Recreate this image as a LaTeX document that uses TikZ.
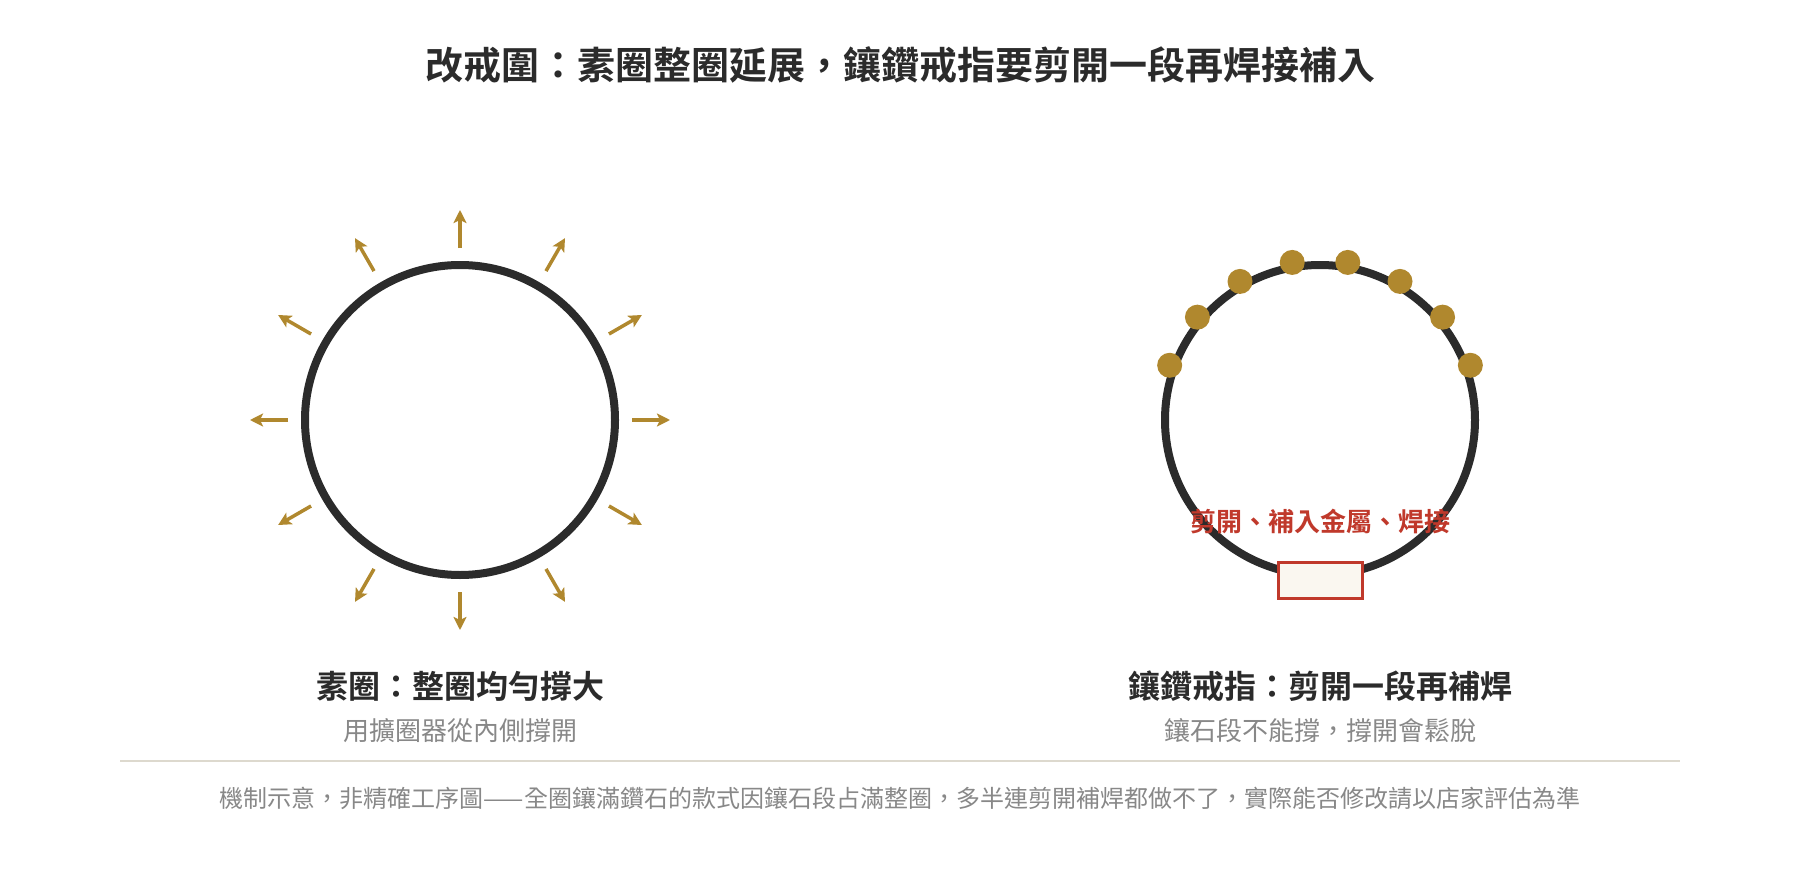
\documentclass[tikz,border=0pt]{standalone}
\usepackage{fontspec}
\setmainfont{Noto Sans CJK TC}[BoldFont={Noto Sans CJK TC Bold}]
\usetikzlibrary{arrows.meta, positioning}
\definecolor{ink}{HTML}{2B2B2B}
\definecolor{gold}{HTML}{B0882E}
\definecolor{weld}{HTML}{C0392B}
\definecolor{patchfill}{HTML}{FAF7F0}
\definecolor{muted}{HTML}{888888}
\definecolor{rulecol}{HTML}{DDD9CE}
\tikzset{>={Stealth[length=13pt, width=13pt, inset=3pt]}, x=1pt, y=1pt,
  ring/.style={circle, draw=ink, line width=8pt, minimum size=310pt, inner sep=0pt},
  push/.style={->, draw=gold, line width=3.5pt},
  gem/.style={circle, fill=gold, minimum size=25pt, inner sep=0pt},
  patch/.style={rectangle, draw=weld, fill=patchfill, line width=3pt, minimum width=84pt, minimum height=36pt, inner sep=0pt},
  maintitle/.style={font=\bfseries\fontsize{38}{44}\selectfont, text=ink},
  head/.style={font=\bfseries\fontsize{32}{38}\selectfont, text=ink},
  sub/.style={font=\fontsize{26}{30}\selectfont, text=muted},
  note/.style={font=\bfseries\fontsize{26}{30}\selectfont, text=weld},
  foot/.style={font=\fontsize{24}{28}\selectfont, text=muted}}

\begin{document}
\begin{tikzpicture}
    \fill[white] (0,0) rectangle (1800,-880);
    \useasboundingbox (0,0) rectangle (1800,-880);
    \node[maintitle] (title) at (900,-65) {改戒圍：素圈整圈延展，鑲鑽戒指要剪開一段再焊接補入};

    % plain band, stretched all round
    \node[ring] (plain) at (460,-420) {};
    \foreach \a in {0,30,...,330} {
        \path (plain.center) ++(\a:172) coordinate (from\a) ++(\a:38) coordinate (to\a);
        \draw[push] (from\a) -- (to\a);
    }
    \node[head] (plainhead) at (460,-686) {素圈：整圈均勻撐大};
    \node[sub] (plainsub) at (460,-731) {用擴圈器從內側撐開};

    % paved ring, cut and welded
    \node[ring] (paved) at (1320,-420) {};
    \foreach \a in {20,40,...,160}
        \node[gem] (gem\a) at ([shift={(\a:160)}]paved.center) {};
    \node[patch] (insert) at (1320,-580) {};
    \node[note] (weldnote) at (1320,-522) {剪開、補入金屬、焊接};
    \node[head] (pavedhead) at (1320,-686) {鑲鑽戒指：剪開一段再補焊};
    \node[sub] (pavedsub) at (1320,-731) {鑲石段不能撐，撐開會鬆脫};

    \coordinate (ruleL) at (120,-761);
    \coordinate (ruleR) at (1680,-761);
    \draw[rulecol, line width=2pt] (ruleL) -- (ruleR);
    \node[foot] (footnote) at (900,-798) {機制示意，非精確工序圖——全圈鑲滿鑽石的款式因鑲石段占滿整圈，多半連剪開補焊都做不了，實際能否修改請以店家評估為準};
\end{tikzpicture}
\end{document}
